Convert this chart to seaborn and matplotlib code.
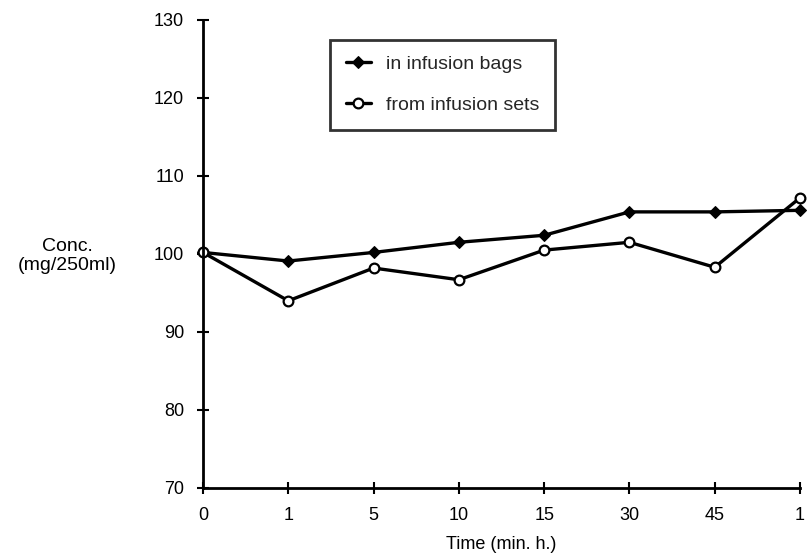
import matplotlib
matplotlib.use("Agg")
import matplotlib.pyplot as plt
import seaborn as sns
import pandas as pd

time_labels = ["0", "1", "5", "10", "15", "30", "45", "1"]
bags = [100.2, 99.1, 100.2, 101.5, 102.4, 105.4, 105.4, 105.6]
sets = [100.2, 94.0, 98.2, 96.7, 100.5, 101.5, 98.3, 107.2]
y_ticks = [70, 80, 90, 100, 110, 120, 130]

sns.set_theme(style="white")
plt.rcParams["font.family"] = ["Liberation Sans", "DejaVu Sans"]

fig = plt.figure(figsize=(8.09, 5.56), dpi=100)
ax = fig.add_axes([203 / 809, 68 / 556, 597 / 809, 468 / 556])

pos = list(range(len(time_labels)))
df_bags = pd.DataFrame({"pos": pos, "conc": bags})
df_sets = pd.DataFrame({"pos": pos, "conc": sets})

sns.lineplot(data=df_bags, x="pos", y="conc", ax=ax, color="black", linewidth=2.4,
             marker="D", markersize=6.5, markerfacecolor="black", markeredgecolor="black",
             label="in infusion bags", clip_on=False)
sns.lineplot(data=df_sets, x="pos", y="conc", ax=ax, color="black", linewidth=2.4,
             marker="o", markersize=7, markerfacecolor="white", markeredgecolor="black",
             markeredgewidth=1.6, label="from infusion sets", clip_on=False)

ax.set_xlim(0, len(time_labels) - 1)
ax.set_ylim(70, 130)
ax.set_xticks(pos)
ax.set_xticklabels(time_labels)
ax.set_yticks(y_ticks)

for s in ["top", "right"]:
    ax.spines[s].set_visible(False)
for s in ["left", "bottom"]:
    ax.spines[s].set_color("black")
    ax.spines[s].set_linewidth(2)

ax.tick_params(axis="both", direction="inout", length=9, width=1.5, color="black",
               labelsize=13, labelcolor="black", bottom=True, left=True)
ax.tick_params(axis="y", pad=9)
ax.tick_params(axis="x", pad=9)

ax.set_xlabel("Time (min. h.)", fontsize=13, color="black", labelpad=9)
ax.set_ylabel("Conc.\n(mg/250ml)", fontsize=14, color="black", rotation=0,
              ha="center", va="center", linespacing=1.1)
ax.yaxis.set_label_coords((67 - 203) / 597, (488 - 256) / 468)

leg = ax.legend(loc="upper left", bbox_to_anchor=((330 - 203) / 597, (488 - 40) / 468),
                borderaxespad=0, fontsize=14, frameon=True, fancybox=False,
                handlelength=1.3, labelspacing=1.2, borderpad=0.8, handletextpad=0.8)
leg.get_frame().set_edgecolor("black")
leg.get_frame().set_linewidth(2)

ax.grid(False)
fig.savefig("out.png", dpi=100)
